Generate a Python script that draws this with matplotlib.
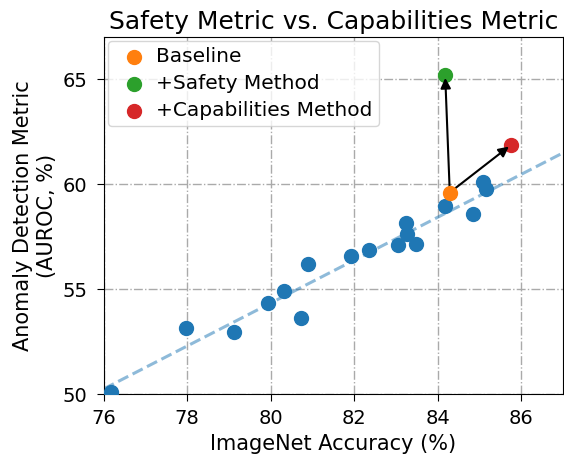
import numpy as np
import matplotlib
matplotlib.use("Agg")
import matplotlib.pyplot as plt

# Data
other_x = [76.18, 77.97, 79.11, 79.93, 80.32, 80.72, 80.90, 81.93, 82.36, 83.06,
           83.24, 83.26, 83.48, 84.18, 84.85, 85.09, 85.16]
other_y = [50.11, 53.16, 52.94, 54.32, 54.92, 53.62, 56.19, 56.57, 56.86, 57.08,
           58.13, 57.63, 57.14, 58.95, 58.57, 60.11, 59.78]
baseline = (84.29, 59.60)
safety = (84.18, 65.19)
capab = (85.76, 61.87)
labels = ["Baseline", "+Safety Method", "+Capabilities Method"]

fig = plt.figure(figsize=(5.64, 4.59), dpi=100)
ax = fig.add_subplot(111)
fig.subplots_adjust(left=0.184, right=0.998, top=0.919, bottom=0.1416)

xlim = (76, 87)
coef = np.polyfit(other_x, other_y, 1)
xs = np.array(xlim)
ax.plot(xs, np.polyval(coef, xs), '--', color='tab:blue', alpha=0.5, lw=2.2, zorder=2)

ax.scatter(other_x, other_y, s=100, color='tab:blue', zorder=3)
ax.scatter([baseline[0]], [baseline[1]], s=100, color='tab:orange', zorder=6, label=labels[0])
ax.scatter([safety[0]], [safety[1]], s=100, color='tab:green', zorder=4, label=labels[1])
ax.scatter([capab[0]], [capab[1]], s=100, color='tab:red', zorder=4, label=labels[2])

for tgt in (safety, capab):
    ax.annotate("", xy=tgt, xytext=baseline,
                arrowprops=dict(arrowstyle='-|>', color='black', lw=1.5,
                                shrinkA=0, shrinkB=2, mutation_scale=15), zorder=5)

ax.set_xlim(*xlim)
ax.set_ylim(50, 67)
ax.set_xticks([76, 78, 80, 82, 84, 86])
ax.set_yticks([50, 55, 60, 65])
ax.tick_params(labelsize=14, length=5)
ax.tick_params(axis='x', pad=6)
ax.tick_params(axis='y', pad=7)
ax.grid(True, linestyle='-.', color='#aaaaaa', lw=1)
ax.set_axisbelow(True)
ax.set_xlabel("ImageNet Accuracy (%)", fontsize=15)
ax.set_ylabel("Anomaly Detection Metric\n(AUROC, %)", fontsize=15)
ax.set_title("Safety Metric vs. Capabilities Metric", fontsize=18)
ax.legend(loc='upper left', fontsize=14.5, handletextpad=0.1, borderpad=0.3,
          labelspacing=0.4, borderaxespad=0.2)

fig.savefig("out.png", dpi=100)
